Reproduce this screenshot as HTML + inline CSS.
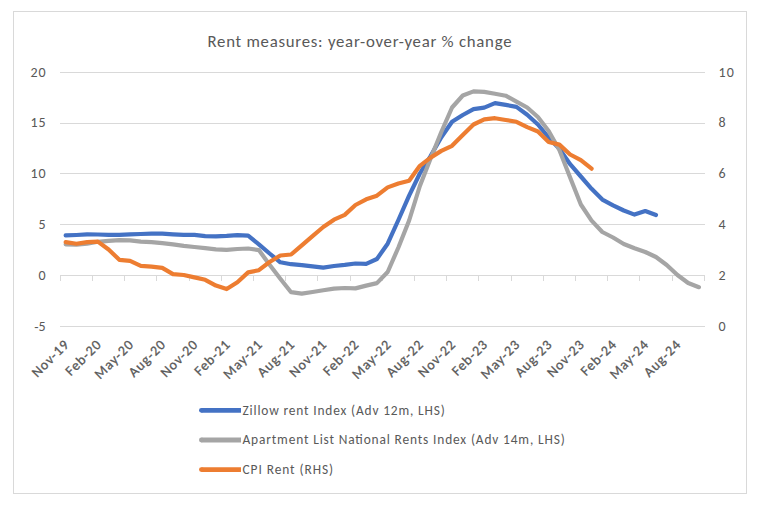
<!DOCTYPE html><html><head><meta charset="utf-8"><title>Rent measures: year-over-year % change</title><style>html,body{margin:0;padding:0;background:#fff;}body{width:760px;height:506px;overflow:hidden;}svg{display:block;}text{font-size-adjust:0.47754;font-family:"Carlito","Liberation Sans",sans-serif;fill:#595959;}</style></head><body>
<svg width="760" height="506" viewBox="0 0 760 506">
<rect x="0" y="0" width="760" height="506" fill="#fff"/>
<rect x="13.5" y="11.5" width="733" height="482" fill="#fff" stroke="#d9d9d9" stroke-width="1"/>
<text x="207.5" y="46.7" font-size="16.8" textLength="304" lengthAdjust="spacing">Rent measures: year-over-year % change</text>
<line x1="60" y1="72.5" x2="705" y2="72.5" stroke="#d9d9d9" stroke-width="1"/>
<line x1="60" y1="123.5" x2="705" y2="123.5" stroke="#d9d9d9" stroke-width="1"/>
<line x1="60" y1="173.5" x2="705" y2="173.5" stroke="#d9d9d9" stroke-width="1"/>
<line x1="60" y1="224.5" x2="705" y2="224.5" stroke="#d9d9d9" stroke-width="1"/>
<line x1="60" y1="326.5" x2="705" y2="326.5" stroke="#d9d9d9" stroke-width="1"/>
<line x1="60" y1="275.5" x2="705" y2="275.5" stroke="#d9d9d9" stroke-width="1"/>
<line x1="60.5" y1="275.5" x2="60.5" y2="281.0" stroke="#d9d9d9" stroke-width="1"/>
<line x1="92.5" y1="275.5" x2="92.5" y2="281.0" stroke="#d9d9d9" stroke-width="1"/>
<line x1="124.5" y1="275.5" x2="124.5" y2="281.0" stroke="#d9d9d9" stroke-width="1"/>
<line x1="156.5" y1="275.5" x2="156.5" y2="281.0" stroke="#d9d9d9" stroke-width="1"/>
<line x1="189.5" y1="275.5" x2="189.5" y2="281.0" stroke="#d9d9d9" stroke-width="1"/>
<line x1="221.5" y1="275.5" x2="221.5" y2="281.0" stroke="#d9d9d9" stroke-width="1"/>
<line x1="253.5" y1="275.5" x2="253.5" y2="281.0" stroke="#d9d9d9" stroke-width="1"/>
<line x1="285.5" y1="275.5" x2="285.5" y2="281.0" stroke="#d9d9d9" stroke-width="1"/>
<line x1="317.5" y1="275.5" x2="317.5" y2="281.0" stroke="#d9d9d9" stroke-width="1"/>
<line x1="350.5" y1="275.5" x2="350.5" y2="281.0" stroke="#d9d9d9" stroke-width="1"/>
<line x1="382.5" y1="275.5" x2="382.5" y2="281.0" stroke="#d9d9d9" stroke-width="1"/>
<line x1="414.5" y1="275.5" x2="414.5" y2="281.0" stroke="#d9d9d9" stroke-width="1"/>
<line x1="446.5" y1="275.5" x2="446.5" y2="281.0" stroke="#d9d9d9" stroke-width="1"/>
<line x1="478.5" y1="275.5" x2="478.5" y2="281.0" stroke="#d9d9d9" stroke-width="1"/>
<line x1="511.5" y1="275.5" x2="511.5" y2="281.0" stroke="#d9d9d9" stroke-width="1"/>
<line x1="543.5" y1="275.5" x2="543.5" y2="281.0" stroke="#d9d9d9" stroke-width="1"/>
<line x1="575.5" y1="275.5" x2="575.5" y2="281.0" stroke="#d9d9d9" stroke-width="1"/>
<line x1="607.5" y1="275.5" x2="607.5" y2="281.0" stroke="#d9d9d9" stroke-width="1"/>
<line x1="639.5" y1="275.5" x2="639.5" y2="281.0" stroke="#d9d9d9" stroke-width="1"/>
<line x1="672.5" y1="275.5" x2="672.5" y2="281.0" stroke="#d9d9d9" stroke-width="1"/>
<line x1="704.5" y1="275.5" x2="704.5" y2="281.0" stroke="#d9d9d9" stroke-width="1"/>
<text x="45.7" y="76.8" font-size="14" text-anchor="end" textLength="15.20" lengthAdjust="spacing">20</text>
<text x="45.7" y="126.8" font-size="14" text-anchor="end" textLength="15.20" lengthAdjust="spacing">15</text>
<text x="45.7" y="177.8" font-size="14" text-anchor="end" textLength="15.20" lengthAdjust="spacing">10</text>
<text x="45.7" y="228.8" font-size="14" text-anchor="end">5</text>
<text x="45.7" y="279.8" font-size="14" text-anchor="end">0</text>
<text x="45.7" y="330.8" font-size="14" text-anchor="end"><tspan dy="1">-</tspan><tspan dy="-1">5</tspan></text>
<text x="718.5" y="76.8" font-size="14" textLength="15.40" lengthAdjust="spacing">10</text>
<text x="718.5" y="126.8" font-size="14">8</text>
<text x="718.5" y="177.8" font-size="14">6</text>
<text x="718.5" y="228.8" font-size="14">4</text>
<text x="718.5" y="279.8" font-size="14">2</text>
<text x="718.5" y="330.8" font-size="14">0</text>
<text x="69.57" y="345.7" font-size="14" text-anchor="end" textLength="45.75" lengthAdjust="spacing" stroke="#595959" stroke-width="0.3" transform="rotate(-45 69.57 345.7)">Nov-19</text>
<text x="101.77" y="345.7" font-size="14" text-anchor="end" textLength="43.72" lengthAdjust="spacing" stroke="#595959" stroke-width="0.3" transform="rotate(-45 101.77 345.7)">Feb-20</text>
<text x="133.96" y="345.7" font-size="14" text-anchor="end" textLength="48.09" lengthAdjust="spacing" stroke="#595959" stroke-width="0.3" transform="rotate(-45 133.96 345.7)">May-20</text>
<text x="166.16" y="345.7" font-size="14" text-anchor="end" textLength="45.40" lengthAdjust="spacing" stroke="#595959" stroke-width="0.3" transform="rotate(-45 166.16 345.7)">Aug-20</text>
<text x="198.36" y="345.7" font-size="14" text-anchor="end" textLength="45.75" lengthAdjust="spacing" stroke="#595959" stroke-width="0.3" transform="rotate(-45 198.36 345.7)">Nov-20</text>
<text x="230.56" y="345.7" font-size="14" text-anchor="end" textLength="43.72" lengthAdjust="spacing" stroke="#595959" stroke-width="0.3" transform="rotate(-45 230.56 345.7)">Feb-21</text>
<text x="262.76" y="345.7" font-size="14" text-anchor="end" textLength="48.09" lengthAdjust="spacing" stroke="#595959" stroke-width="0.3" transform="rotate(-45 262.76 345.7)">May-21</text>
<text x="294.96" y="345.7" font-size="14" text-anchor="end" textLength="45.40" lengthAdjust="spacing" stroke="#595959" stroke-width="0.3" transform="rotate(-45 294.96 345.7)">Aug-21</text>
<text x="327.16" y="345.7" font-size="14" text-anchor="end" textLength="45.75" lengthAdjust="spacing" stroke="#595959" stroke-width="0.3" transform="rotate(-45 327.16 345.7)">Nov-21</text>
<text x="359.36" y="345.7" font-size="14" text-anchor="end" textLength="43.72" lengthAdjust="spacing" stroke="#595959" stroke-width="0.3" transform="rotate(-45 359.36 345.7)">Feb-22</text>
<text x="391.56" y="345.7" font-size="14" text-anchor="end" textLength="48.09" lengthAdjust="spacing" stroke="#595959" stroke-width="0.3" transform="rotate(-45 391.56 345.7)">May-22</text>
<text x="423.76" y="345.7" font-size="14" text-anchor="end" textLength="45.40" lengthAdjust="spacing" stroke="#595959" stroke-width="0.3" transform="rotate(-45 423.76 345.7)">Aug-22</text>
<text x="455.95" y="345.7" font-size="14" text-anchor="end" textLength="45.75" lengthAdjust="spacing" stroke="#595959" stroke-width="0.3" transform="rotate(-45 455.95 345.7)">Nov-22</text>
<text x="488.15" y="345.7" font-size="14" text-anchor="end" textLength="43.72" lengthAdjust="spacing" stroke="#595959" stroke-width="0.3" transform="rotate(-45 488.15 345.7)">Feb-23</text>
<text x="520.35" y="345.7" font-size="14" text-anchor="end" textLength="48.09" lengthAdjust="spacing" stroke="#595959" stroke-width="0.3" transform="rotate(-45 520.35 345.7)">May-23</text>
<text x="552.55" y="345.7" font-size="14" text-anchor="end" textLength="45.40" lengthAdjust="spacing" stroke="#595959" stroke-width="0.3" transform="rotate(-45 552.55 345.7)">Aug-23</text>
<text x="584.75" y="345.7" font-size="14" text-anchor="end" textLength="45.75" lengthAdjust="spacing" stroke="#595959" stroke-width="0.3" transform="rotate(-45 584.75 345.7)">Nov-23</text>
<text x="616.95" y="345.7" font-size="14" text-anchor="end" textLength="43.72" lengthAdjust="spacing" stroke="#595959" stroke-width="0.3" transform="rotate(-45 616.95 345.7)">Feb-24</text>
<text x="649.15" y="345.7" font-size="14" text-anchor="end" textLength="48.09" lengthAdjust="spacing" stroke="#595959" stroke-width="0.3" transform="rotate(-45 649.15 345.7)">May-24</text>
<text x="681.35" y="345.7" font-size="14" text-anchor="end" textLength="45.40" lengthAdjust="spacing" stroke="#595959" stroke-width="0.3" transform="rotate(-45 681.35 345.7)">Aug-24</text>
<polyline points="65.67,235.40 76.40,235.00 87.13,234.40 97.87,234.50 108.60,234.80 119.33,234.80 130.06,234.30 140.80,234.00 151.53,233.70 162.26,233.70 173.00,234.30 183.73,234.90 194.46,234.90 205.20,236.10 215.93,236.40 226.66,235.90 237.39,235.10 248.13,235.70 258.86,244.30 269.59,253.50 280.33,262.30 291.06,264.20 301.79,265.10 312.53,266.40 323.26,267.60 333.99,266.00 344.72,264.90 355.46,263.50 366.19,263.80 376.92,259.00 387.66,243.70 398.39,220.00 409.12,195.60 419.86,173.50 430.59,156.00 441.32,137.30 452.05,121.80 462.79,115.00 473.52,109.20 484.25,107.60 494.99,103.10 505.72,104.90 516.45,106.90 527.19,114.70 537.92,124.50 548.65,137.50 559.38,148.70 570.12,164.20 580.85,176.50 591.58,188.80 602.32,199.60 613.05,205.30 623.78,210.50 634.52,214.60 645.25,211.00 655.98,215.00" fill="none" stroke="#4472c4" stroke-width="4.2" stroke-linejoin="round" stroke-linecap="round"/>
<polyline points="65.67,244.30 76.40,244.60 87.13,243.60 97.87,241.80 108.60,240.80 119.33,240.10 130.06,240.40 140.80,241.70 151.53,242.20 162.26,243.20 173.00,244.40 183.73,245.90 194.46,247.00 205.20,248.20 215.93,249.40 226.66,249.80 237.39,249.00 248.13,248.50 258.86,250.10 269.59,264.80 280.33,278.80 291.06,292.20 301.79,293.60 312.53,292.00 323.26,290.20 333.99,288.60 344.72,288.00 355.46,288.40 366.19,285.60 376.92,283.10 387.66,272.00 398.39,247.50 409.12,220.50 419.86,186.00 430.59,158.50 441.32,132.00 452.05,107.50 462.79,95.50 473.52,91.40 484.25,91.90 494.99,93.80 505.72,95.70 516.45,101.60 527.19,107.50 537.92,117.00 548.65,131.00 559.38,150.00 570.12,177.50 580.85,204.50 591.58,220.60 602.32,232.00 613.05,237.50 623.78,244.00 634.52,248.30 645.25,252.00 655.98,257.00 666.71,265.00 677.45,275.00 688.18,283.00 698.91,287.20" fill="none" stroke="#a5a5a5" stroke-width="4.2" stroke-linejoin="round" stroke-linecap="round"/>
<polyline points="65.67,242.10 76.40,243.80 87.13,242.10 97.87,241.60 108.60,249.50 119.33,259.80 130.06,260.90 140.80,265.80 151.53,266.70 162.26,267.90 173.00,274.10 183.73,275.00 194.46,277.40 205.20,279.80 215.93,285.60 226.66,289.10 237.39,282.30 248.13,272.40 258.86,270.20 269.59,262.00 280.33,255.50 291.06,254.50 301.79,245.30 312.53,236.20 323.26,227.00 333.99,219.70 344.72,214.90 355.46,205.00 366.19,199.30 376.92,195.70 387.66,187.40 398.39,183.50 409.12,180.70 419.86,165.80 430.59,157.60 441.32,150.90 452.05,145.80 462.79,135.00 473.52,124.50 484.25,119.30 494.99,118.20 505.72,120.00 516.45,121.80 527.19,127.10 537.92,131.50 548.65,142.00 559.38,144.60 570.12,154.50 580.85,160.20 591.58,168.70" fill="none" stroke="#ed7d31" stroke-width="4.2" stroke-linejoin="round" stroke-linecap="round"/>
<line x1="201.4" y1="410.3" x2="241.0" y2="410.3" stroke="#4472c4" stroke-width="4.8" stroke-linecap="butt"/>
<circle cx="201.4" cy="410.3" r="2.4" fill="#4472c4"/>
<text x="242.5" y="414.9" font-size="13.4" textLength="202.2" lengthAdjust="spacing">Zillow rent Index (Adv 12m, LHS)</text>
<line x1="201.4" y1="440" x2="241.0" y2="440" stroke="#a5a5a5" stroke-width="4.8" stroke-linecap="butt"/>
<circle cx="201.4" cy="440" r="2.4" fill="#a5a5a5"/>
<text x="242.5" y="444.4" font-size="13.4" textLength="322.2" lengthAdjust="spacing">Apartment List National Rents Index (Adv 14m, LHS)</text>
<line x1="201.4" y1="469.6" x2="241.0" y2="469.6" stroke="#ed7d31" stroke-width="4.8" stroke-linecap="butt"/>
<circle cx="201.4" cy="469.6" r="2.4" fill="#ed7d31"/>
<text x="242.5" y="473.8" font-size="13.4" textLength="90.6" lengthAdjust="spacing">CPI Rent (RHS)</text>
</svg></body></html>
